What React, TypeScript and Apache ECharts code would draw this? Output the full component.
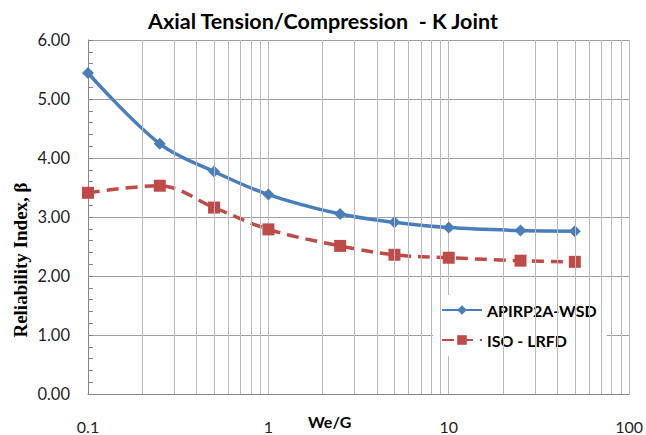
import { useEffect, useRef } from "react";
import * as echarts from "echarts";

const weOverG = [0.1, 0.25, 0.5, 1, 2.5, 5, 10, 25, 50];
const apiWsd = [5.44, 4.24, 3.77, 3.38, 3.05, 2.91, 2.82, 2.77, 2.76];
const isoLrfd = [3.41, 3.53, 3.16, 2.79, 2.51, 2.36, 2.31, 2.26, 2.24];
const minorGridX = [
  0.2, 0.3, 0.4, 0.5, 0.6, 0.7, 0.8, 0.9,
  2, 3, 4, 5, 6, 7, 8, 9,
  20, 30, 40, 50, 60, 70, 80, 90,
];
const seriesNames = ["APIRP2A-WSD", "ISO - LRFD"];
const titleText = "Axial Tension/Compression  - K Joint";
const xName = "We/G";
const yName = "Reliability Index, \u03b2";

export default function App() {
  const ref = useRef<HTMLDivElement>(null);
  useEffect(() => {
    if (!ref.current) return;
    const chart = echarts.init(ref.current, null, { renderer: "svg" });
    const sans = "Lato, 'Open Sans', sans-serif";
    chart.setOption({
      animation: false,
      backgroundColor: "#ffffff",
      title: {
        text: titleText,
        left: "center",
        top: 5,
        textStyle: { fontFamily: sans, fontWeight: "bold", fontSize: 21.5, color: "#000000" },
      },
      grid: { left: 88, right: 16, top: 40, bottom: 41, containLabel: false },
      legend: {
        data: seriesNames,
        orient: "vertical",
        left: 433,
        top: 295,
        padding: [7, 10, 8, 8],
        itemGap: 14,
        itemWidth: 40,
        itemHeight: 12,
        backgroundColor: "#ffffff",
        textStyle: { fontFamily: sans, fontWeight: "bold", fontSize: 16, color: "#000000" },
      },
      xAxis: {
        type: "log",
        logBase: 10,
        min: 0.1,
        max: 100,
        axisLine: { show: true, lineStyle: { color: "#868686", width: 1 } },
        axisTick: { show: false },
        axisLabel: {
          margin: 24,
          fontFamily: sans,
          fontSize: 16,
          color: "#1f1f1f",
          formatter: (v: number) => String(+Number(v).toPrecision(4)),
        },
        splitLine: { show: true, lineStyle: { color: "#bababa", width: 1 } },
      },
      yAxis: {
        type: "value",
        min: 0,
        max: 6,
        interval: 1,
        axisLine: { show: true, lineStyle: { color: "#868686", width: 1 } },
        axisTick: { show: true, inside: true, length: 5, lineStyle: { color: "#868686" } },
        minorTick: { show: true, splitNumber: 5, length: 5, lineStyle: { color: "#868686" } },
        axisLabel: {
          margin: 18,
          fontFamily: sans,
          fontSize: 16.5,
          color: "#1f1f1f",
          formatter: (v: number) => v.toFixed(2),
        },
        splitLine: { show: true, lineStyle: { color: "#a0a0a0", width: 1 } },
      },
      graphic: [
        {
          type: "text",
          left: 308,
          top: 413,
          style: { text: xName, fontFamily: sans, fontWeight: "bold", fontSize: 16, fill: "#000000" },
        },
        {
          type: "text",
          x: 20,
          y: 260,
          rotation: Math.PI / 2,
          style: {
            text: yName,
            fontFamily: "'Liberation Serif', 'DejaVu Serif', serif",
            fontWeight: "bold",
            fontSize: 19,
            fill: "#000000",
            align: "center",
            verticalAlign: "middle",
          },
        },
      ],
      series: [
        {
          type: "line",
          z: 1,
          data: [],
          silent: true,
          markLine: {
            silent: true,
            symbol: ["none", "none"],
            label: { show: false },
            lineStyle: { color: "#bababa", width: 1, type: "solid" },
            emphasis: { disabled: true },
            data: minorGridX.map((v) => ({ xAxis: v })),
          },
        },
        {
          name: seriesNames[0],
          type: "line",
          z: 3,
          smooth: 0.35,
          data: weOverG.map((x, i) => [x, apiWsd[i]]),
          symbol: "diamond",
          symbolSize: 12,
          showAllSymbol: true,
          itemStyle: { color: "#4A7EBB" },
          lineStyle: { color: "#4A7EBB", width: 3.5 },
        },
        {
          name: seriesNames[1],
          type: "line",
          z: 3,
          smooth: 0.35,
          data: weOverG.map((x, i) => [x, isoLrfd[i]]),
          symbol: "rect",
          symbolSize: 12,
          showAllSymbol: true,
          itemStyle: { color: "#BE4B48" },
          lineStyle: { color: "#BE4B48", width: 3.5, type: [12, 7] },
        },
      ],
    });
    return () => chart.dispose();
  }, []);
  return (
    <div
      ref={ref}
      style={{ position: "fixed", left: 0, top: 0, width: 646, height: 435 }}
    />
  );
}
